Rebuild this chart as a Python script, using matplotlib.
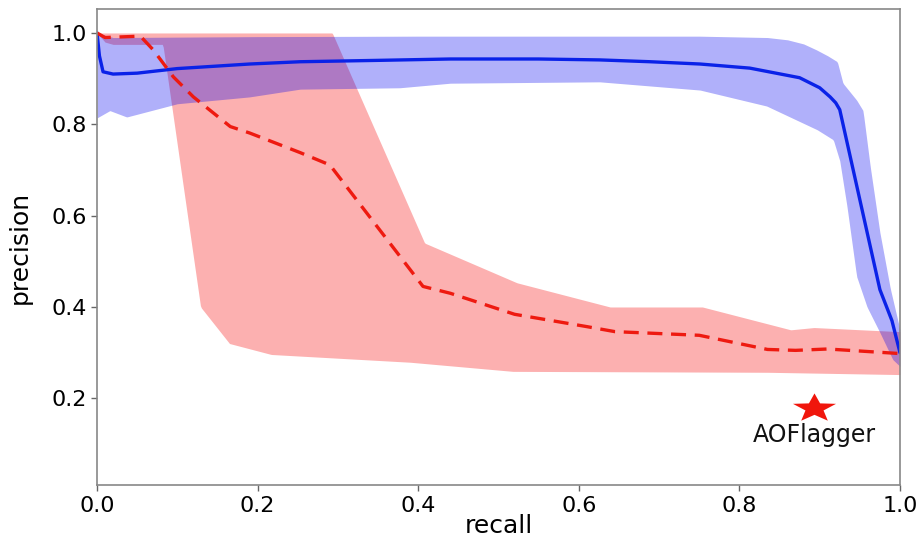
import numpy as np
import matplotlib
matplotlib.use("Agg")
import matplotlib.pyplot as plt
from matplotlib.path import Path
from matplotlib.transforms import Affine2D

# ---- data ----
blue_mean_r = [0, 0.003, 0.0075, 0.02, 0.05, 0.1, 0.19, 0.253, 0.35, 0.44, 0.55, 0.626, 0.689,
               0.751, 0.813, 0.875, 0.9, 0.913, 0.92, 0.925, 0.95, 0.975, 0.99, 1.0]
blue_mean_p = [1.0, 0.95, 0.915, 0.91, 0.912, 0.922, 0.932, 0.937, 0.94, 0.943, 0.943, 0.941, 0.937,
               0.932, 0.923, 0.902, 0.88, 0.86, 0.847, 0.832, 0.635, 0.438, 0.37, 0.30]

blue_up_r = [0, 0.02, 0.2, 0.4, 0.6, 0.75, 0.835, 0.86, 0.88, 0.896, 0.91, 0.922, 0.929, 0.946,
             0.954, 0.963, 0.975, 0.988, 1.0]
blue_up_p = [1.0, 0.99, 0.992, 0.993, 0.993, 0.993, 0.99, 0.985, 0.976, 0.963, 0.95, 0.937, 0.89,
             0.853, 0.83, 0.707, 0.563, 0.44, 0.35]

blue_lo_r = [0, 0.016, 0.037, 0.1, 0.19, 0.253, 0.377, 0.44, 0.626, 0.751, 0.834, 0.897, 0.917,
             0.925, 0.934, 0.946, 0.959, 0.975, 0.991, 1.0]
blue_lo_p = [0.814, 0.83, 0.816, 0.845, 0.86, 0.877, 0.88, 0.89, 0.893, 0.875, 0.84, 0.788, 0.766,
             0.72, 0.62, 0.467, 0.40, 0.344, 0.285, 0.27]

red_mean_r = [0, 0.01, 0.054, 0.07, 0.095, 0.12, 0.166, 0.19, 0.253, 0.29, 0.406, 0.44, 0.52,
              0.61, 0.645, 0.75, 0.835, 0.87, 0.91, 1.0]
red_mean_p = [1.0, 0.99, 0.993, 0.963, 0.904, 0.86, 0.795, 0.781, 0.738, 0.711, 0.445, 0.43, 0.384,
              0.357, 0.346, 0.338, 0.307, 0.305, 0.308, 0.298]

red_up_r = [0, 0.293, 0.408, 0.523, 0.639, 0.754, 0.864, 0.893, 1.0]
red_up_p = [1.0, 1.0, 0.54, 0.453, 0.40, 0.40, 0.35, 0.355, 0.346]

red_lo_r = [0, 0.01, 0.02, 0.082, 0.129, 0.165, 0.217, 0.39, 0.518, 0.835, 1.0]
red_lo_p = [1.0, 0.98, 0.975, 0.975, 0.40, 0.32, 0.296, 0.279, 0.259, 0.257, 0.252]

aof_recall = [0.893]
aof_precision = [0.178]
aof_label = "AOFlagger"

x_ticks = [0.0, 0.2, 0.4, 0.6, 0.8, 1.0]
y_ticks = [0.2, 0.4, 0.6, 0.8, 1.0]

# ---- figure ----
fig = plt.figure(figsize=(9.24, 5.42), dpi=100)
ax = fig.add_axes([0.105, 0.105, 0.869, 0.878])

grid = np.linspace(0, 1, 801)
r_lo = np.interp(grid, red_lo_r, red_lo_p)
r_up = np.interp(grid, red_up_r, red_up_p)
b_lo = np.interp(grid, blue_lo_r, blue_lo_p)
b_up = np.interp(grid, blue_up_r, blue_up_p)

ax.fill_between(grid, r_lo, r_up, color="#f80000", alpha=0.31, linewidth=0)
ax.fill_between(grid, b_lo, b_up, color="#0000f0", alpha=0.31, linewidth=0)
ax.plot(blue_mean_r, blue_mean_p, color="#0a22e8", lw=2.4, solid_capstyle="round")
ax.plot(red_mean_r, red_mean_p, color="#ee1a10", lw=2.4, ls=(0, (4.5, 2.6)))

star = Path.unit_regular_star(5, 0.42)
star = star.transformed(Affine2D().scale(1.5, 1.0))
ax.plot(aof_recall, aof_precision, ls="none", marker=star, markersize=31,
        color="#f0160c", markeredgewidth=0)
ax.text(aof_recall[0], aof_precision[0] - 0.058, aof_label, ha="center", va="center",
        fontsize=17, color="#111111")

ax.set_xlim(0, 1)
ax.set_ylim(0.01, 1.052)
ax.set_xticks(x_ticks)
ax.set_yticks(y_ticks)
ax.set_xticklabels([f"{t:.1f}" for t in x_ticks])
ax.set_yticklabels([f"{t:.1f}" for t in y_ticks])
ax.tick_params(labelsize=16, length=4, width=1, color="#666666")
for s in ax.spines.values():
    s.set_color("#888888")
    s.set_linewidth(1.2)
ax.set_xlabel("recall", fontsize=18, labelpad=-1)
ax.set_ylabel("precision", fontsize=18, labelpad=14)

fig.savefig("out.png", dpi=100)
